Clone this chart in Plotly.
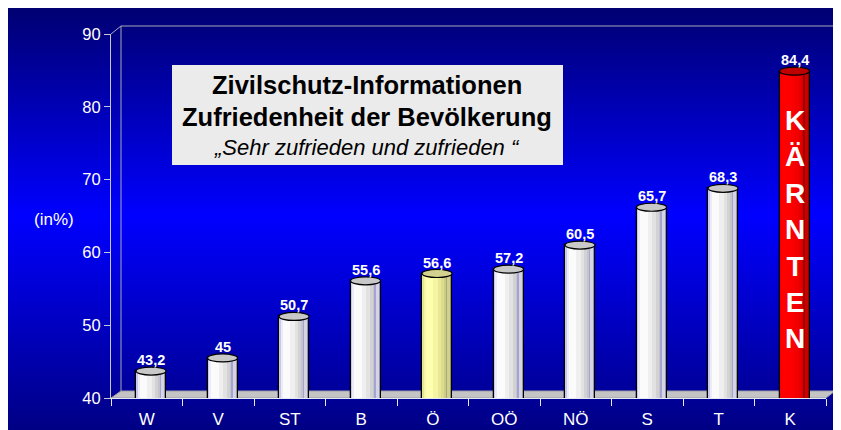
import base64
import struct
import zlib
import plotly.graph_objects as go

# ---------------- data ----------------
categories = ["W", "V", "ST", "B", "Ö", "OÖ", "NÖ", "S", "T", "K"]
values = [43.2, 45.0, 50.7, 55.6, 56.6, 57.2, 60.5, 65.7, 68.3, 84.4]
value_labels = ["43,2", "45", "50,7", "55,6", "56,6", "57,2", "60,5", "65,7", "68,3", "84,4"]
bar_groups = ["w", "w", "w", "w", "y", "w", "w", "w", "w", "r"]
y_tickvals = [40, 50, 60, 70, 80, 90]
highlight_text = "KÄRNTEN"
y_label = "(in%)"
title_lines = ["Zivilschutz-Informationen",
               "Zufriedenheit der Bevölkerung",
               "„Sehr zufrieden und zufrieden “"]

# ---------------- style ----------------
W, H = 860, 430
OFF = 8  # page body margin
ML, MR, MT, MB = 103, 42, 26, 40
PW, PH = W - ML - MR, H - MT - MB
FONT = "Liberation Sans, Arial, sans-serif"
BAR_W = 0.42
BAR_OFF = -0.15
DEPTH = 0.5
ELL = 0.55


def pxx(x):  # screen x -> paper
    return (x - OFF - ML) / PW


def pxy(y):  # screen y -> paper
    return (H - MB - (y - OFF)) / PH


def gradient_png():
    top_y, mid_y, bot_y = 0, 207, 422
    c_top, c_mid, c_bot = 0x72, 0xff, 0x84
    rows = []
    for y in range(H):
        if y <= mid_y:
            t = (y - top_y) / (mid_y - top_y)
            b = c_top + (c_mid - c_top) * t
        else:
            t = min(1.0, (y - mid_y) / (bot_y - mid_y))
            b = c_mid + (c_bot - c_mid) * t
        rows.append(b"\x00" + bytes([0, 0, int(round(b))]))
    raw = b"".join(rows)

    def chunk(tag, data):
        return (struct.pack(">I", len(data)) + tag + data +
                struct.pack(">I", zlib.crc32(tag + data) & 0xffffffff))

    png = (b"\x89PNG\r\n\x1a\n" +
           chunk(b"IHDR", struct.pack(">IIBBBBB", 1, H, 8, 2, 0, 0, 0)) +
           chunk(b"IDAT", zlib.compress(raw)) + chunk(b"IEND", b""))
    return "data:image/png;base64," + base64.b64encode(png).decode()


idx = list(range(len(categories)))

strips = [
    (0.00, 0.05, "#c8c8ec", "#e4e494", "#f00000"),
    (0.05, 0.12, "#ececf8", "#f6f6a6", "#ff0000"),
    (0.12, 0.38, "#fbfbfb", "#ffffb0", "#ff0000"),
    (0.38, 0.52, "#efefef", "#f4f4a2", "#fa0000"),
    (0.52, 0.64, "#e2e2e2", "#e8e898", "#f20000"),
    (0.64, 0.76, "#d2d2d2", "#dcdc8c", "#e40000"),
    (0.76, 0.80, "#c4c4ca", "#cccc82", "#d40000"),
    (0.80, 0.84, "#a4a4d4", "#a8a878", "#a00000"),
    (0.84, 1.00, "#d4d4e4", "#d0d090", "#c80000"),
]
top_colors = {"w": "#c8c8c8", "y": "#d2d28e", "r": "#c00000"}

fig = go.Figure()

for (s, e, cw, cy, cr) in strips:
    cmap = {"w": cw, "y": cy, "r": cr}
    fig.add_trace(go.Bar(
        x=idx, y=values, base=DEPTH,
        width=(e - s) * BAR_W, offset=BAR_OFF + s * BAR_W,
        marker=dict(color=[cmap[g] for g in bar_groups], line=dict(width=0)),
        hoverinfo="skip", showlegend=False))

fig.add_trace(go.Bar(
    x=idx, y=values, base=DEPTH, width=BAR_W, offset=BAR_OFF,
    marker=dict(color="rgba(0,0,0,0)", line=dict(color="black", width=1.3)),
    hoverinfo="skip", showlegend=False))

shapes = []
shapes.append(dict(type="path", xref="paper", yref="paper", layer="below",
                   path="M %f,%f L %f,%f L %f,%f L %f,%f Z" % (
                       pxx(111), pxy(398), pxx(826), pxy(398),
                       pxx(835), pxy(391), pxx(121), pxy(391)),
                   fillcolor="#c4c4c4", line=dict(color="#9a9aa8", width=1)))
wall = "#a8a8b8"
for (a, b_, c, d) in [(121, 391, 121, 26), (121, 26, 835, 26), (835, 26, 835, 391),
                      (111, 34, 121, 26)]:
    shapes.append(dict(type="line", xref="paper", yref="paper", layer="below",
                       x0=pxx(a), y0=pxy(b_), x1=pxx(c), y1=pxy(d),
                       line=dict(color=wall, width=1)))

for i, v, g in zip(idx, values, bar_groups):
    shapes.append(dict(type="circle", xref="x", yref="y", layer="above",
                       x0=i + BAR_OFF, x1=i + BAR_OFF + BAR_W,
                       y0=v + DEPTH - ELL, y1=v + DEPTH + ELL,
                       fillcolor=top_colors[g], line=dict(color="black", width=1.2)))

shapes.append(dict(type="rect", xref="paper", yref="paper", layer="above",
                   x0=pxx(172), x1=pxx(563), y0=pxy(165), y1=pxy(65),
                   fillcolor="#ebebeb", line=dict(width=0)))

annotations = []
for i, v, lab in zip(idx, values, value_labels):
    annotations.append(dict(x=i + BAR_OFF + BAR_W / 2, y=v + DEPTH + ELL, xref="x", yref="y",
                            text=lab, showarrow=False, yanchor="bottom", xanchor="center",
                            yshift=-3,
                            font=dict(family=FONT, size=14.5, color="white", weight="bold")))

ki = categories.index("K")
annotations.append(dict(x=ki + BAR_OFF + BAR_W / 2, y=(y_tickvals[0] + values[ki]) / 2,
                        xref="x", yref="y", yshift=7, xanchor="center", yanchor="middle",
                        text="<br>".join(list(highlight_text)), showarrow=False,
                        font=dict(family=FONT, size=28, color="white", weight="bold")))

tx = pxx(367)
for txt, ypos, fmt, size in [(title_lines[0], 85, "<b>%s</b>", 25.5),
                             (title_lines[1], 117, "<b>%s</b>", 25.5),
                             (title_lines[2], 147, "<i>%s</i>", 22)]:
    annotations.append(dict(x=tx, y=pxy(ypos), xref="paper", yref="paper", text=fmt % txt,
                            xanchor="center", yanchor="middle", showarrow=False,
                            font=dict(family=FONT, size=size, color="black")))
annotations.append(dict(x=pxx(54), y=pxy(219), xref="paper", yref="paper", text=y_label,
                        xanchor="center", yanchor="middle",
                        showarrow=False, font=dict(family=FONT, size=17, color="white")))

images = [dict(source=gradient_png(), xref="paper", yref="paper",
               x=-ML / PW, y=(H - MB) / PH, sizex=W / PW, sizey=H / PH,
               xanchor="left", yanchor="top", sizing="stretch", layer="below")]

fig.update_layout(
    width=W, height=H,
    margin=dict(l=ML, r=MR, t=MT, b=MB, pad=0),
    paper_bgcolor="#000090", plot_bgcolor="rgba(0,0,0,0)",
    barmode="overlay", bargap=0,
    shapes=shapes, annotations=annotations, images=images, showlegend=False,
    font=dict(family=FONT, color="white"),
)
fig.update_xaxes(range=[-0.5, len(categories) - 0.5], tickvals=idx, ticktext=categories,
                 ticks="", showgrid=False, zeroline=False, showline=True,
                 linecolor="#e8e8f0", linewidth=1, ticklabelstandoff=6,
                 tickfont=dict(family=FONT, size=17, color="white"),
                 minor=dict(tickvals=[i - 0.5 for i in range(len(categories) + 1)],
                            ticks="outside", ticklen=7, tickcolor="#e8e8f0", tickwidth=1,
                            showgrid=False),
                 automargin=False, fixedrange=True)
fig.update_yaxes(range=[y_tickvals[0], y_tickvals[-1]], tickvals=y_tickvals,
                 ticks="outside", ticklen=6, tickcolor="#c8c8d0", tickwidth=1,
                 ticklabelstandoff=0,
                 showgrid=False, zeroline=False, showline=True, linecolor="#c8c8d0",
                 linewidth=1, tickfont=dict(family=FONT, size=16.5, color="white"),
                 automargin=False, fixedrange=True)

fig.write_html("out.html",
               post_script="document.documentElement.style.overflow='hidden';"
                           "document.body.style.overflow='hidden';")
